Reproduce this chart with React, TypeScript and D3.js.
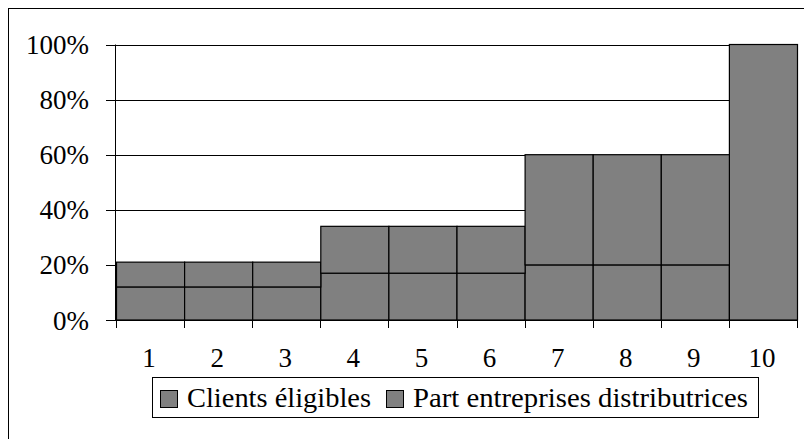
import React from "react";
import * as d3 from "d3";

const categories = ["1", "2", "3", "4", "5", "6", "7", "8", "9", "10"];
const clientsEligibles = [12, 12, 12, 17, 17, 17, 20, 20, 20, 100];
const partEntreprises = [9, 9, 9, 17, 17, 17, 40, 40, 40, 0];
const yTicks = [0, 20, 40, 60, 80, 100];
const seriesNames = ["Clients éligibles", "Part entreprises distributrices"];

const W = 804;
const H = 439;
const FONT = '"Times New Roman", Times, "Liberation Serif", serif';
const FILL = "#808080";

export default function App() {
  const x = d3.scaleBand<string>().domain(categories).range([116, 797]).padding(0);
  const y = d3.scaleLinear().domain([0, 100]).range([320, 44.5]);

  const rows = categories.map((c, i) => ({
    cat: c,
    clientsEligibles: clientsEligibles[i],
    partEntreprises: partEntreprises[i],
  }));
  const stack = d3.stack<any>().keys(["clientsEligibles", "partEntreprises"]);
  const layers = stack(rows);

  const bw = x.bandwidth();
  const xEnd = 797;

  const legendItems = [
    { swatch: 160, text: 187, len: 184, label: seriesNames[0] },
    { swatch: 386, text: 413, len: 335, label: seriesNames[1] },
  ];

  const txt = { fontFamily: FONT };

  return (
    <svg
      width={W}
      height={H}
      style={{ position: "absolute", left: 0, top: 0, background: "#fff", fontFamily: FONT }}
    >
      {/* outer frame */}
      <rect x={8.5} y={8.5} width={W + 20} height={H + 20} fill="#fff" stroke="#000" strokeWidth={1} />

      {/* horizontal gridlines */}
      {yTicks.slice(1).map((t) => (
        <line key={"g" + t} x1={116} x2={xEnd} y1={Math.round(y(t)) + 0.5} y2={Math.round(y(t)) + 0.5} stroke="#000" strokeWidth={1} />
      ))}

      {/* stacked bars */}
      {layers.map((layer, li) =>
        layer.map((d, i) => {
          const y0 = y(d[0]);
          const y1 = y(d[1]);
          return (
            <rect
              key={li + "-" + i}
              x={(x(categories[i]) as number) + 0.5}
              y={y1}
              width={bw}
              height={Math.max(0, y0 - y1)}
              fill={FILL}
              stroke="#000"
              strokeWidth={1.2}
            />
          );
        })
      )}

      {/* y axis */}
      <line x1={115.5} x2={115.5} y1={y(100)} y2={y(0)} stroke="#000" strokeWidth={1} />
      {yTicks.map((t) => (
        <g key={"y" + t}>
          <line x1={106} x2={116} y1={Math.round(y(t)) + 0.5} y2={Math.round(y(t)) + 0.5} stroke="#000" strokeWidth={1} />
          <text x={89} y={y(t) + 9.5} textAnchor="end" fontSize={27} fill="#000" style={txt}>
            {t + "%"}
          </text>
        </g>
      ))}

      {/* x axis */}
      <line x1={116} x2={xEnd} y1={320.5} y2={320.5} stroke="#000" strokeWidth={1} />
      {d3.range(categories.length + 1).map((i) => {
        const px = Math.round(116 + i * bw) + 0.5;
        return <line key={"xt" + i} x1={px} x2={px} y1={320} y2={328} stroke="#000" strokeWidth={1} />;
      })}
      {categories.map((c) => (
        <text key={"xl" + c} x={(x(c) as number) + bw / 2 - 1} y={366.5} textAnchor="middle" fontSize={27} fill="#000" style={txt}>
          {c}
        </text>
      ))}

      {/* legend */}
      <rect x={152.5} y={377.5} width={606} height={40} fill="#fff" stroke="#000" strokeWidth={1} />
      {legendItems.map((it) => (
        <g key={it.label}>
          <rect x={it.swatch + 0.5} y={390.5} width={17} height={17} fill={FILL} stroke="#000" strokeWidth={1} />
          <text
            x={it.text}
            y={406.5}
            fontSize={27}
            fill="#000"
            style={txt}
            textLength={it.len}
            lengthAdjust="spacingAndGlyphs"
          >
            {it.label}
          </text>
        </g>
      ))}
    </svg>
  );
}
